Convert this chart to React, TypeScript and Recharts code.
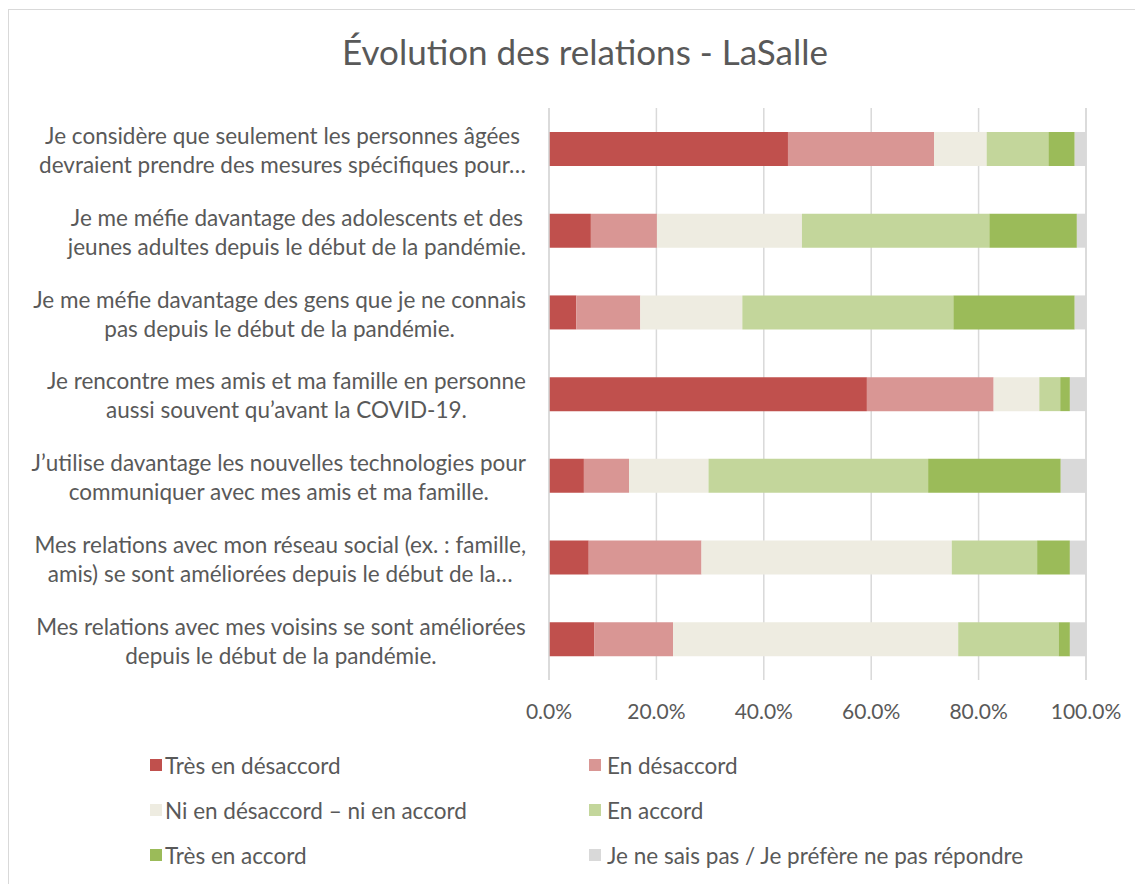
import React from "react";
import { BarChart, Bar, XAxis, YAxis, CartesianGrid } from "recharts";

const FONT = "Lato, 'Open Sans', sans-serif";
const TEXT = "#595959";

const categories = [
  "Je considère que seulement les personnes âgées|devraient prendre des mesures spécifiques pour…",
  "Je me méfie davantage des adolescents et des|jeunes adultes depuis le début de la pandémie.",
  "Je me méfie davantage des gens que je ne connais|pas depuis le début de la pandémie.",
  "Je rencontre mes amis et ma famille en personne|aussi souvent qu’avant la COVID-19.",
  "J’utilise davantage les nouvelles technologies pour|communiquer avec mes amis et ma famille.",
  "Mes relations avec mon réseau social (ex. : famille,|amis) se sont améliorées depuis le début de la…",
  "Mes relations avec mes voisins se sont améliorées|depuis le début de la pandémie.",
];

const tresDesaccord = [44.5, 7.8, 5.1, 59.2, 6.5, 7.4, 8.4];
const desaccord = [27.2, 12.3, 11.9, 23.6, 8.4, 21.0, 14.7];
const neutre = [9.8, 27.0, 19.0, 8.5, 14.8, 46.6, 53.1];
const accord = [11.5, 34.9, 39.3, 3.9, 40.9, 15.9, 18.7];
const tresAccord = [4.9, 16.3, 22.6, 1.8, 24.7, 6.1, 2.1];
const nsp = [2.1, 1.7, 2.1, 3.0, 4.7, 3.0, 3.0];

const xTicks = [0, 20, 40, 60, 80, 100];

const series = [
  { key: "tresDesaccord", name: "Très en désaccord", color: "#C0504D" },
  { key: "desaccord", name: "En désaccord", color: "#D99694" },
  { key: "neutre", name: "Ni en désaccord – ni en accord", color: "#EEECE1" },
  { key: "accord", name: "En accord", color: "#C3D69B" },
  { key: "tresAccord", name: "Très en accord", color: "#9BBB59" },
  { key: "nsp", name: "Je ne sais pas / Je préfère ne pas répondre", color: "#D9D9D9" },
];

const data = categories.map((name, i) => ({
  name,
  tresDesaccord: tresDesaccord[i],
  desaccord: desaccord[i],
  neutre: neutre[i],
  accord: accord[i],
  tresAccord: tresAccord[i],
  nsp: nsp[i],
}));

let ctx: CanvasRenderingContext2D | null = null;
function measure(text: string, size: number) {
  if (!ctx) ctx = document.createElement("canvas").getContext("2d");
  if (!ctx) return text.length * size * 0.5;
  ctx.font = `${size}px ${FONT}`;
  return ctx.measureText(text).width;
}

const LABEL_SIZE = 22.5;

function CategoryTick(props: any) {
  const { y, payload } = props;
  const lines: string[] = String(payload.value).split("|");
  const widest = Math.max(...lines.map((l) => measure(l, LABEL_SIZE)));
  const cx = 517 - widest / 2;
  const lh = 29;
  const top = y + 2 - ((lines.length - 1) * lh) / 2;
  return (
    <g>
      {lines.map((l, i) => (
        <text
          key={i}
          x={cx}
          y={top + i * lh}
          dy="0.35em"
          textAnchor="middle"
          fill={TEXT}
          fontSize={LABEL_SIZE}
          fontFamily={FONT}
        >
          {l}
        </text>
      ))}
    </g>
  );
}

export default function App() {
  return (
    <div
      style={{
        position: "relative",
        width: 1200,
        height: 900,
        marginTop: 1,
        borderTop: "1px solid #d9d9d9",
        borderLeft: "1px solid #d9d9d9",
        boxSizing: "border-box",
        fontFamily: FONT,
        background: "#fff",
      }}
    >
      <style>{`html, body { overflow: hidden; }`}</style>
      <div
        style={{
          position: "absolute",
          left: 576,
          top: 21,
          transform: "translateX(-50%)",
          whiteSpace: "nowrap",
          fontSize: 35,
          lineHeight: "40px",
          color: TEXT,
        }}
      >
        Évolution des relations - LaSalle
      </div>

      <BarChart
        width={1126}
        height={720}
        data={data}
        layout="vertical"
        margin={{ top: 98, right: 49, left: 0, bottom: 10 }}
        barSize={34}
      >
        <CartesianGrid horizontal={false} stroke="#d9d9d9" strokeWidth={1.5} />
        <XAxis
          type="number"
          domain={[0, 100]}
          ticks={xTicks}
          axisLine={false}
          tickLine={false}
          tickMargin={18}
          height={40}
          tickFormatter={(v: number) => `${v.toFixed(1)}%`}
          tick={{ fill: TEXT, fontSize: 21, fontFamily: FONT }}
        />
        <YAxis
          type="category"
          dataKey="name"
          width={540}
          axisLine={{ stroke: "#d9d9d9", strokeWidth: 1.5 }}
          tickLine={false}
          tick={<CategoryTick />}
          interval={0}
        />
        {series.map((s) => (
          <Bar
            key={s.key}
            dataKey={s.key}
            name={s.name}
            stackId="a"
            fill={s.color}
            isAnimationActive={false}
          />
        ))}
      </BarChart>

      {series.map((s, i) => {
        const col = i % 2;
        const row = Math.floor(i / 2);
        return (
          <div
            key={s.key}
            style={{
              position: "absolute",
              left: col === 0 ? 141 : 580,
              top: 755 + row * 45 - 15,
              height: 30,
              display: "flex",
              alignItems: "center",
              whiteSpace: "nowrap",
              fontSize: 22.5,
              color: TEXT,
            }}
          >
            <span
              style={{
                display: "inline-block",
                width: 12,
                height: 12,
                background: s.color,
                marginRight: col === 0 ? 3 : 6,
              }}
            />
            {s.name}
          </div>
        );
      })}
    </div>
  );
}
